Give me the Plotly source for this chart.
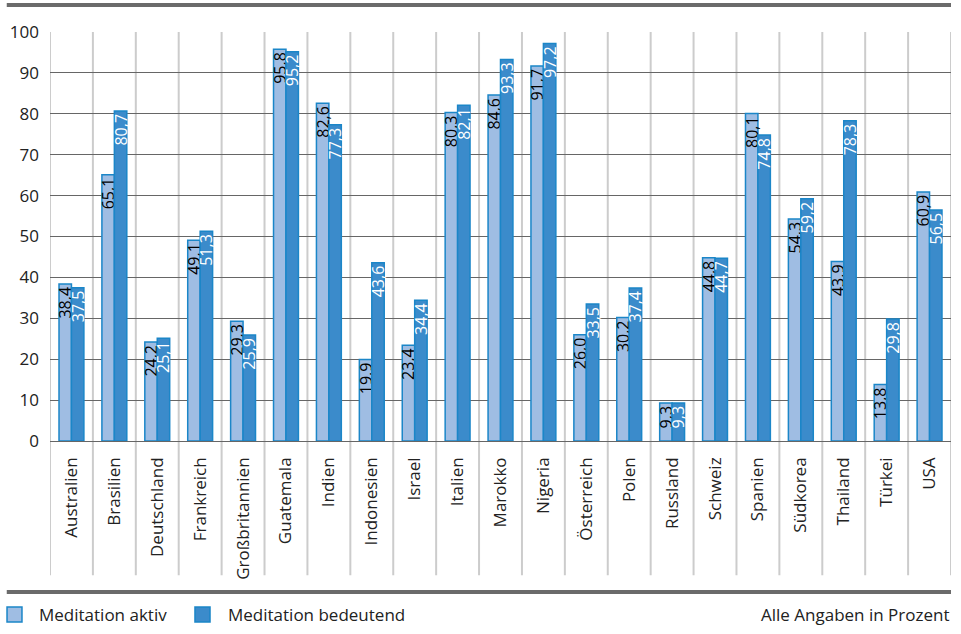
import plotly.graph_objects as go

countries = ["Australien", "Brasilien", "Deutschland", "Frankreich", "Großbritannien",
             "Guatemala", "Indien", "Indonesien", "Israel", "Italien", "Marokko",
             "Nigeria", "Österreich", "Polen", "Russland", "Schweiz", "Spanien",
             "Südkorea", "Thailand", "Türkei", "USA"]
aktiv = [38.4, 65.1, 24.2, 49.1, 29.3, 95.8, 82.6, 19.9, 23.4, 80.3, 84.6,
         91.7, 26.0, 30.2, 9.3, 44.8, 80.1, 54.3, 43.9, 13.8, 60.9]
bedeutend = [37.5, 80.7, 25.1, 51.3, 25.9, 95.2, 77.3, 43.6, 34.4, 82.1, 93.3,
             97.2, 33.5, 37.4, 9.3, 44.7, 74.8, 59.2, 78.3, 29.8, 56.5]
y_ticks = list(range(0, 101, 10))
series_names = ["Meditation aktiv", "Meditation bedeutend"]

FONT = "Open Sans"
LIGHT = "#9fbde3"
DARK = "#3b8bcb"
EDGE = "#1b86c8"
TXT = "#222222"

def fmt(v):
    return f"{v:.1f}".replace(".", ",")

fig = go.Figure()
fig.add_trace(go.Bar(
    x=countries, y=aktiv, name=series_names[0],
    marker=dict(color=LIGHT, line=dict(color=EDGE, width=1.5)),
    text=[fmt(v) for v in aktiv], textposition="inside", insidetextanchor="end",
    textangle=-90, constraintext="none",
    textfont=dict(family=FONT, size=16, color="#000000"),
))
fig.add_trace(go.Bar(
    x=countries, y=bedeutend, name=series_names[1],
    marker=dict(color=DARK, line=dict(color=EDGE, width=1.5)),
    text=[fmt(v) for v in bedeutend], textposition="inside", insidetextanchor="end",
    textangle=-90, constraintext="none",
    textfont=dict(family=FONT, size=16, color="#ffffff"),
))

shapes = []
for i in range(len(countries) + 1):
    shapes.append(dict(type="line", xref="x", yref="paper", x0=i - 0.5, x1=i - 0.5,
                       y0=-0.328, y1=1.0, line=dict(color="#cccccc", width=2), layer="below"))
shapes.append(dict(type="line", xref="paper", yref="paper", x0=-0.048, x1=1.0,
                   y0=1.066, y1=1.066, line=dict(color="#6b6b6b", width=4)))
shapes.append(dict(type="line", xref="paper", yref="paper", x0=-0.048, x1=1.0,
                   y0=-0.369, y1=-0.369, line=dict(color="#6b6b6b", width=4)))

# manual legend
leg_y0, leg_y1, leg_yc = -0.4425, -0.4059, -0.4242
leg_sq_x = [(-0.0477, -0.0311), (0.1609, 0.1776)]
leg_txt_x = [-0.0144, 0.1953]
for (x0, x1), col in zip(leg_sq_x, [LIGHT, DARK]):
    shapes.append(dict(type="rect", xref="paper", yref="paper", x0=x0, x1=x1,
                       y0=leg_y0, y1=leg_y1, fillcolor=col, line=dict(color=EDGE, width=1.5)))

annotations = []
for tx, name in zip(leg_txt_x, series_names):
    annotations.append(dict(text=name, xref="paper", yref="paper", x=tx, y=leg_yc,
                            xanchor="left", yanchor="middle", showarrow=False,
                            font=dict(family=FONT, size=17, color=TXT)))
annotations.append(dict(text="Alle Angaben in Prozent", xref="paper", yref="paper",
                        x=1.0, y=leg_yc, xanchor="right", yanchor="middle", showarrow=False,
                        font=dict(family=FONT, size=17, color=TXT)))

fig.update_layout(
    width=961, height=634,
    margin=dict(l=50, r=10, t=32, b=193),
    paper_bgcolor="white", plot_bgcolor="white",
    barmode="group", bargap=0.42, bargroupgap=0.0,
    font=dict(family=FONT, color=TXT),
    showlegend=False,
    uniformtext=dict(minsize=16, mode="show"),
    xaxis=dict(type="category", tickangle=-90, showgrid=False, ticks="",
               tickfont=dict(family=FONT, size=17, color=TXT),
               range=[-0.5, len(countries) - 0.5], showline=False, automargin=False,
               ticklabelstandoff=12),
    yaxis=dict(range=[0, 100], tickvals=y_ticks, showgrid=True, gridcolor="#666666",
               gridwidth=1, zeroline=True, zerolinecolor="#666666", zerolinewidth=1,
               ticks="", tickfont=dict(family=FONT, size=17, color=TXT),
               ticklabelstandoff=10, automargin=False),
    shapes=shapes,
    annotations=annotations,
)

fig.write_html("out.html")
